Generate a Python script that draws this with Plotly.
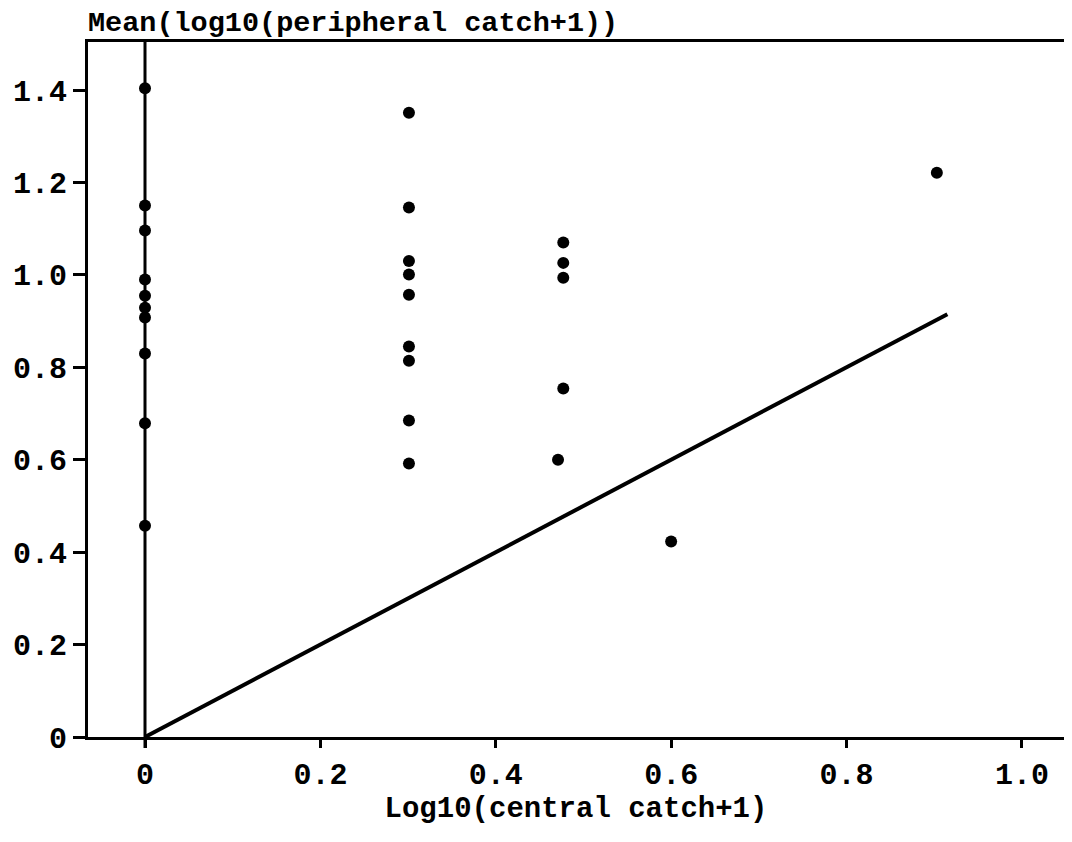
import plotly.graph_objects as go

# Data
x_central = [0, 0, 0, 0, 0, 0, 0, 0, 0, 0,
             0.301, 0.301, 0.301, 0.301, 0.301, 0.301, 0.301, 0.301, 0.301,
             0.477, 0.477, 0.477, 0.477, 0.471,
             0.600, 0.903]
y_peripheral = [1.404, 1.150, 1.096, 0.990, 0.955, 0.929, 0.908, 0.830, 0.679, 0.457,
                1.351, 1.146, 1.030, 1.001, 0.957, 0.845, 0.814, 0.685, 0.592,
                1.070, 1.026, 0.994, 0.754, 0.600,
                0.423, 1.221]

diag_x = [0, 0.915]
diag_y = [0, 0.915]

x_ticks = [0, 0.2, 0.4, 0.6, 0.8, 1.0]
x_ticktext = ["0", "0.2", "0.4", "0.6", "0.8", "1.0"]
y_ticks = [0, 0.2, 0.4, 0.6, 0.8, 1.0, 1.2, 1.4]
y_ticktext = ["0", "0.2", "0.4", "0.6", "0.8", "1.0", "1.2", "1.4"]

FONT = "Liberation Mono"

fig = go.Figure()
fig.add_trace(go.Scatter(x=diag_x, y=diag_y, mode="lines",
                         line=dict(color="black", width=4), showlegend=False))
fig.add_trace(go.Scatter(x=x_central, y=y_peripheral, mode="markers",
                         marker=dict(color="black", size=12), showlegend=False,
                         cliponaxis=False))

# vertical reference line at x = 0
fig.add_shape(type="line", xref="x", yref="paper", x0=0, x1=0, y0=-0.016, y1=1,
              line=dict(color="black", width=3))

fig.add_annotation(text="<b>Mean(log10(peripheral catch+1))</b>",
                   xref="paper", yref="paper", x=0, y=1, xanchor="left", yanchor="bottom",
                   xshift=-2, yshift=0, showarrow=False,
                   font=dict(family=FONT, size=28.5, color="black"))

fig.update_layout(
    width=1056, height=826,
    margin=dict(l=80, r=0, t=34, b=97, autoexpand=False),
    plot_bgcolor="white", paper_bgcolor="white",
    font=dict(family=FONT, size=28, color="black"),
    xaxis=dict(range=[-0.065, 1.048], tickvals=x_ticks, ticktext=x_ticktext,
               showgrid=False, zeroline=False, showline=True, linecolor="black",
               linewidth=3, mirror=True, ticks="outside", ticklen=8, tickwidth=3,
               tickcolor="black", automargin=False,
               tickfont=dict(family=FONT, size=30, weight="bold"),
               title=dict(text="<b>Log10(central catch+1)</b>", standoff=2,
                          font=dict(family=FONT, size=29))),
    yaxis=dict(range=[0, 1.504], tickvals=y_ticks, ticktext=y_ticktext,
               showgrid=False, zeroline=False, showline=True, linecolor="black",
               linewidth=3, ticks="outside", ticklen=12, tickwidth=3,
               tickcolor="black", automargin=False,
               tickfont=dict(family=FONT, size=30, weight="bold")),
)

fig.write_html("out.html")
